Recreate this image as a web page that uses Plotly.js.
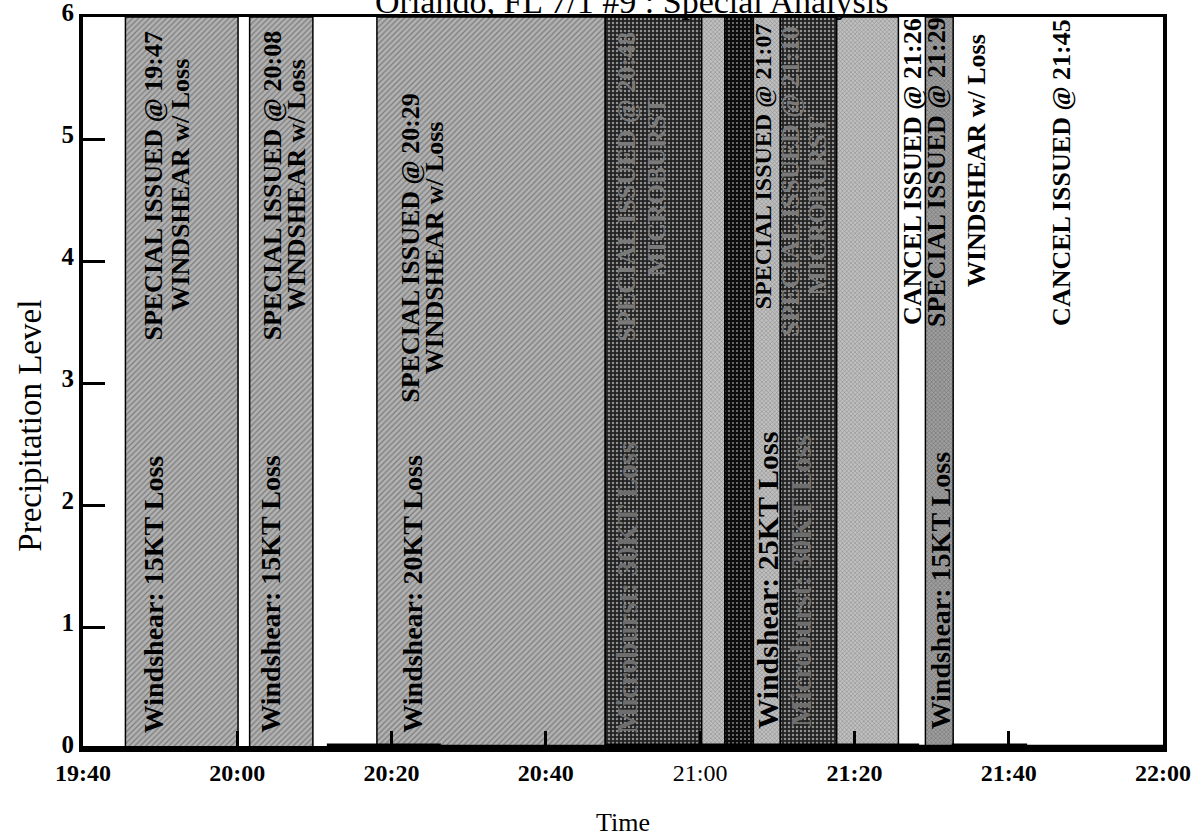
<!DOCTYPE html>
<html><head><meta charset="utf-8">
<script src="https://cdn.plot.ly/plotly-3.0.1.min.js"></script>
<style>html,body{margin:0;padding:0;background:#fff}#chart{width:1203px;height:837px}</style>
</head><body><div id="chart"></div>
<script>
// ---- data ----
const bandStart = ["19:45:30","20:01:36","20:18:06","20:47:42","21:00:12","21:03:12","21:06:54","21:10:24","21:17:42","21:29:12"];
const bandEnd   = ["20:00:06","20:09:48","20:47:42","21:00:12","21:03:12","21:06:54","21:10:24","21:17:42","21:25:42","21:32:48"];
const bandLevel = [6,6,6,6,6,6,6,6,6,6];
const bandTone  = ["hatch","hatch","hatch","dark","light","black","light","dark","light","medium"];

const precipTime  = ["19:40","20:12","20:26","20:48","21:08","21:18","21:28","21:33","21:42","22:00"];
const precipLevel = [0, 0.02, 0.01, 0.02, 0.02, 0.02, 0.01, 0.02, 0.01, 0.01];

const tickTimes  = ["19:40","20:00","20:20","20:40","21:00","21:20","21:40","22:00"];
const tickLabels = ["<b>19:40</b>","<b>20:00</b>","<b>20:20</b>","<b>20:40</b>","21:00","<b>21:20</b>","<b>21:40</b>","<b>22:00</b>"];
const yTicks = [0,1,2,3,4,5,6];

const noteText = [
  "SPECIAL ISSUED @ 19:47","WINDSHEAR w/ Loss","Windshear: 15KT Loss",
  "SPECIAL ISSUED @ 20:08","WINDSHEAR w/ Loss","Windshear: 15KT Loss",
  "SPECIAL ISSUED @ 20:29","WINDSHEAR w/ Loss","Windshear: 20KT Loss",
  "SPECIAL ISSUED @ 20:48","MICROBURST","Microburst: 30KT Loss",
  "SPECIAL ISSUED @ 21:07","Windshear: 25KT Loss",
  "SPECIAL ISSUED @ 21:10","MICROBURST","Microburst: 30KT Loss",
  "CANCEL ISSUED @ 21:26",
  "SPECIAL ISSUED @ 21:29","Windshear: 15KT Loss",
  "WINDSHEAR w/ Loss",
  "CANCEL ISSUED @ 21:45"
];
const noteTime = [
  "19:49:06","19:52:36","19:49:06",
  "20:04:30","20:07:42","20:04:12",
  "20:22:24","20:25:36","20:22:36",
  "20:50:30","20:54:24","20:50:30",
  "21:08:12","21:08:42",
  "21:11:42","21:15:12","21:13:00",
  "21:27:36",
  "21:30:42","21:31:06",
  "21:35:54",
  "21:46:54"
];
const noteLevel = [
  4.62,4.62,1.27,
  4.62,4.62,1.27,
  4.11,4.11,1.27,
  4.61,4.61,1.32,
  4.78,1.38,
  4.66,4.45,1.38,
  4.73,
  4.73,1.30,
  4.82,
  4.73
];
const noteStyle = [
  "up","up","low",
  "up","up","low",
  "up","up","low",
  "updark","updark","lowdark",
  "upsmall","lowbig",
  "updark","updark","lowdark",
  "cancel",
  "up","low",
  "cancel",
  "cancel"
];

// ---- helpers ----
function toMin(s){const p=s.split(":").map(Number);return p[0]*60+p[1]+(p[2]||0)/60;}

const toneStyle = {
  hatch:  {color:"#b2b2b2", shape:"/", fg:"#575757", size:4, sol:0.3},
  light:  {color:"#c0c0c0", shape:"x", fg:"#5e5e5e", size:3, sol:0.3},
  medium: {color:"#9e9e9e", shape:"x", fg:"#3e3e3e", size:3, sol:0.35},
  dark:   {color:"#222222", shape:".", fg:"#7a7a7a", size:4, sol:0.3},
  black:  {color:"#0c0c0c", shape:".", fg:"#3c3c3c", size:4, sol:0.2}
};

const xs = [], ws = [];
for (let i=0;i<bandStart.length;i++){
  const a=toMin(bandStart[i]), b=toMin(bandEnd[i]);
  xs.push((a+b)/2); ws.push(b-a);
}
const bars = {
  type:"bar", x:xs, y:bandLevel, width:ws, base:0,
  marker:{
    color:bandTone.map(t=>toneStyle[t].color),
    line:{color:"#000", width:1.5},
    pattern:{
      shape:bandTone.map(t=>toneStyle[t].shape),
      fgcolor:bandTone.map(t=>toneStyle[t].fg),
      size:bandTone.map(t=>toneStyle[t].size),
      solidity:bandTone.map(t=>toneStyle[t].sol),
      fillmode:"overlay"
    }
  },
  hoverinfo:"skip", showlegend:false
};
const precip = {
  type:"scatter", mode:"lines", x:precipTime.map(toMin), y:precipLevel,
  line:{color:"#000", width:6, shape:"hv"}, showlegend:false, hoverinfo:"skip"
};

const FONT = "Liberation Serif, Times New Roman, serif";
const styleMap = {
  up:      {size:26, color:"#000"},
  upsmall: {size:24, color:"#000"},
  updark:  {size:26, color:"#7a7a7a"},
  low:     {size:28, color:"#000"},
  lowbig:  {size:30, color:"#000"},
  lowdark: {size:29, color:"#6e6e6e"},
  cancel:  {size:26, color:"#000"}
};
const annotations = noteText.map((t,i)=>{
  const st=styleMap[noteStyle[i]];
  return {x:toMin(noteTime[i]), y:noteLevel[i], xref:"x", yref:"y",
    text:"<b>"+t+"</b>", textangle:-90, showarrow:false,
    xanchor:"center", yanchor:"middle",
    font:{family:FONT, size:st.size, color:st.color}};
});
annotations.push({
  text:"Orlando, FL 7/1 #9 : Special Analysis", xref:"paper", yref:"paper",
  x:0.508, y:1, xanchor:"center", yanchor:"middle", yshift:16, showarrow:false,
  font:{family:FONT, size:34, color:"#000"}
});
annotations.push({
  text:"Precipitation Level", xref:"paper", yref:"y",
  x:0, y:2.65, xanchor:"center", yanchor:"middle", xshift:-53, textangle:-90, showarrow:false,
  font:{family:FONT, size:33, color:"#000"}
});

const layout = {
  width:1203, height:837,
  margin:{l:83, r:40, t:17, b:88},
  paper_bgcolor:"#fff", plot_bgcolor:"#fff",
  bargap:0,
  xaxis:{
    range:[toMin("19:40"), toMin("22:00")],
    tickvals:tickTimes.map(toMin), ticktext:tickLabels,
    ticks:"inside", ticklen:18, tickwidth:3, tickcolor:"#000",
    showline:true, linecolor:"#000", linewidth:3, mirror:true,
    showgrid:false, zeroline:false,
    tickfont:{family:FONT, size:24, color:"#000"},
    title:{text:"Time", standoff:30, font:{family:FONT, size:26, color:"#000"}}
  },
  yaxis:{
    range:[0,6], tickvals:yTicks, ticktext:yTicks.map(v=>"<b>"+v+"</b>"),
    ticks:"inside", ticklen:22, tickwidth:3, tickcolor:"#000",
    showline:true, linecolor:"#000", linewidth:4, mirror:true,
    showgrid:false, zeroline:false, ticklabelshift:-5, ticklabeloverflow:"allow",
    tickfont:{family:FONT, size:25, color:"#000"}
  },
  annotations:annotations
};

Plotly.newPlot("chart",[bars, precip],layout,{displayModeBar:false, staticPlot:true});
</script>
</body></html>
